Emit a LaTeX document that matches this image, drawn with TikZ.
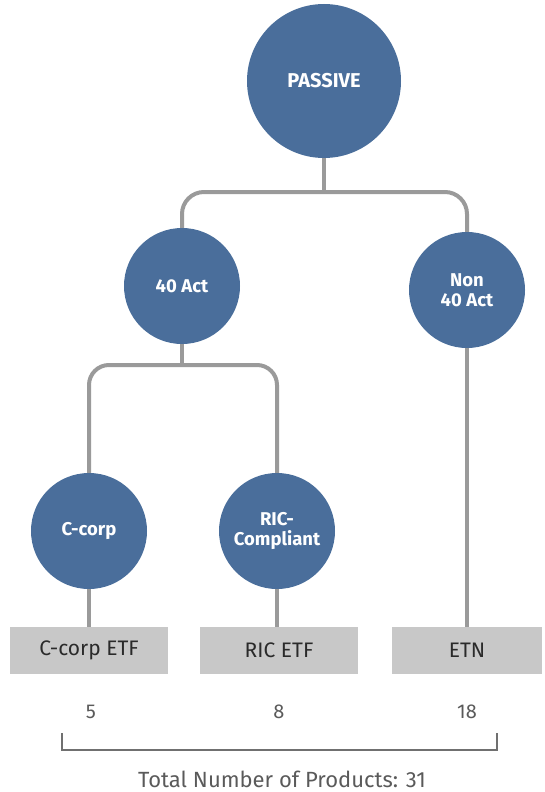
\documentclass[tikz,border=0pt]{standalone}
\usepackage{fontspec}
\setmainfont{Fira Sans}
\definecolor{blueone}{HTML}{4A6E9B}
\definecolor{linegrey}{HTML}{9A9A9A}
\definecolor{boxgrey}{HTML}{C8C8C8}
\definecolor{textdark}{HTML}{2A2A2A}
\definecolor{numgrey}{HTML}{5A5A5A}
\definecolor{brgrey}{HTML}{707070}
\begin{document}
\begin{tikzpicture}[x=1pt,y=-1pt,
  circ/.style={circle, fill=blueone, text=white, font=\bfseries\fontsize{18.5}{20}\selectfont, align=center, inner sep=0pt, minimum size=116pt},
  prodbox/.style={fill=boxgrey, minimum width=158pt, minimum height=47pt, inner sep=0pt, font=\fontsize{21}{25}\selectfont, text=textdark},
  link/.style={draw=linegrey, line width=4pt},
  num/.style={font=\fontsize{20}{24}\selectfont, text=numgrey},
  bracket/.style={draw=brgrey, line width=2pt}]
\useasboundingbox (0,0) rectangle (544,792);
\node[circ, minimum size=154pt, font=\bfseries\fontsize{20}{24}\selectfont] (passive) at (324,81) {PASSIVE};
\node[circ] (act) at (182,286) {40 Act};
\node[circ] (non) at (467,290) {Non\\40 Act};
\node[circ] (ccorp) at (89,531) {C-corp};
\node[circ] (ric) at (277,531) {RIC-\\Compliant};
\node[prodbox] (cbox) at (89,650.5) {C-corp ETF};
\node[prodbox] (rbox) at (279,650.5) {RIC ETF};
\node[prodbox, minimum width=150pt] (ebox) at (467,650.5) {ETN};
\node[num] (n5) at (91,712) {5};
\node[num] (n8) at (279,712) {8};
\node[num] (n18) at (467,712) {18};
\node[font=\fontsize{22}{26}\selectfont, text=numgrey] (total) at (282,779) {Total Number of Products: 31};
\coordinate (bus1) at (324,192);
\coordinate (bus2) at (182,365);
\draw[link] (passive.south) -- (bus1);
\draw[link, rounded corners=22pt] (act.north) |- (bus1) -| (non.north);
\draw[link] (act.south) -- (bus2);
\draw[link, rounded corners=20pt] (ccorp.north) |- (bus2) -| (ric.north);
\draw[link] (ccorp.south) -- (cbox.north);
\draw[link] (ric.south) -- (ric.south |- rbox.north);
\draw[link] (non.south) -- (ebox.north);
\coordinate (bl) at (62,733);
\coordinate (br) at (497,733);
\draw[bracket] (bl) -- ++(0,17) -| (br);
\end{tikzpicture}
\end{document}
